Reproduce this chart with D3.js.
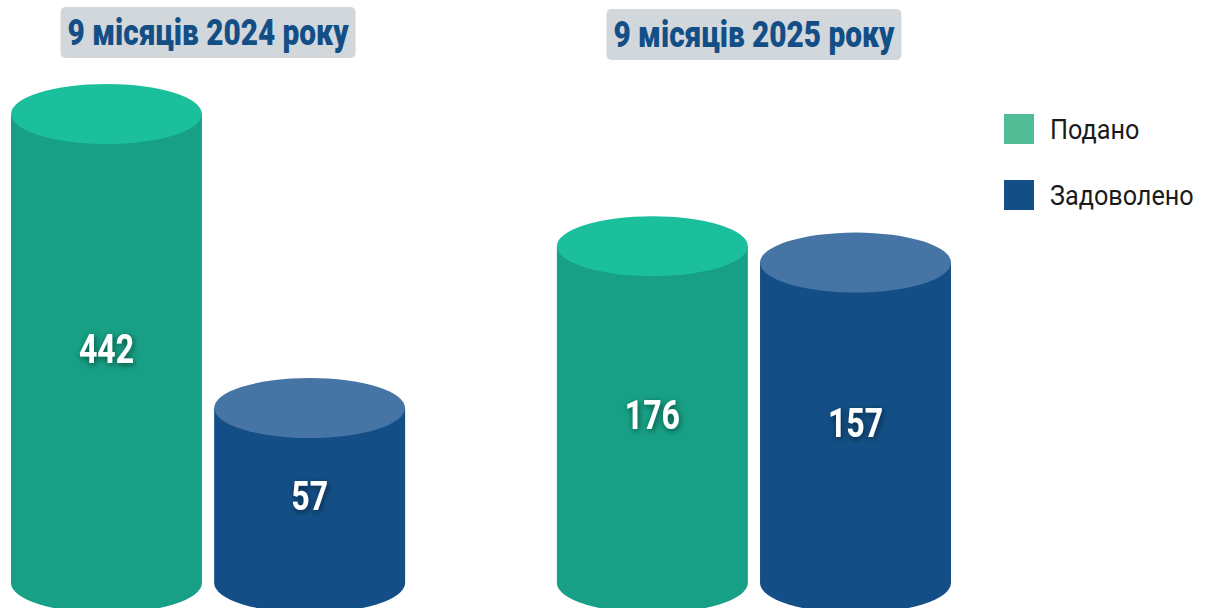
<!DOCTYPE html>
<html><head><meta charset="utf-8">
<script src="https://cdn.jsdelivr.net/npm/d3@7"></script>
<style>html,body{margin:0;padding:0;background:#fff;overflow:hidden}</style>
</head><body>
<svg id="chart" width="1209" height="608"></svg>
<script>
// ---- data ----
const groups = ["9 місяців 2024 року", "9 місяців 2025 року"];
const seriesNames = ["Подано", "Задоволено"];
const podano = [442, 176];
const zadovoleno = [57, 157];

// ---- styles ----
const sideColor = {"Подано": "#17a085", "Задоволено": "#134f86"};
const topColor  = {"Подано": "#1bbf9c", "Задоволено": "#4574a5"};
const legendColor = {"Подано": "#52bc97", "Задоволено": "#134f86"};

const W = 1209, H = 608;
const baseY = 583, ry = 30;
const svg = d3.select("#chart");

const defs = svg.append("defs");
const f = defs.append("filter").attr("id","shadow").attr("x","-50%").attr("y","-50%").attr("width","200%").attr("height","200%");
f.append("feDropShadow").attr("dx",1).attr("dy",2).attr("stdDeviation",3).attr("flood-color","#000").attr("flood-opacity",0.55);

const x0 = d3.scaleBand().domain(groups).range([11, 951]).paddingInner(0.278).paddingOuter(0);
const x1 = d3.scaleBand().domain(seriesNames).range([0, x0.bandwidth()]).paddingInner(0.06).paddingOuter(0);
// log-like height scale
const y = d3.scaleLog().domain([57, 442]).range([baseY - 175, baseY - 469]);

const data = groups.map((g, i) => ({group: g, values: [
  {name: "Подано", value: podano[i]},
  {name: "Задоволено", value: zadovoleno[i]}
]}));

const gG = svg.selectAll("g.grp").data(data).join("g").attr("class","grp")
  .attr("transform", d => `translate(${x0(d.group)},0)`);

const bars = gG.selectAll("g.bar").data(d => d.values).join("g").attr("class","bar");
bars.each(function(d){
  const g = d3.select(this);
  const left = x1(d.name), w = x1.bandwidth(), rx = w/2, cx = left + rx;
  const ty = y(d.value);
  const path = `M${left},${ty} L${left},${baseY} A${rx},${ry} 0 0 0 ${left+w},${baseY} L${left+w},${ty} Z`;
  g.append("path").attr("d", path).attr("fill", sideColor[d.name]);
  g.append("ellipse").attr("cx", cx).attr("cy", ty).attr("rx", rx).attr("ry", ry).attr("fill", topColor[d.name]);
  const t = g.append("text").attr("x", cx).attr("y", (ty + baseY)/2 + 14)
    .attr("text-anchor","middle").attr("fill","#fff")
    .attr("font-family","Roboto, sans-serif").attr("font-weight",700).attr("font-size",40)
    .attr("filter","url(#shadow)").text(d.value);
  const L = t.node().getComputedTextLength();
  t.attr("textLength", L*0.8).attr("lengthAdjust","spacingAndGlyphs");
});

// titles
const titleW = 295, titleH = 51;
const tG = svg.selectAll("g.title").data(groups).join("g").attr("class","title")
  .attr("transform", (d,i) => `translate(${x0(d) + x0.bandwidth()/2},${i===0?7:9})`);
tG.append("rect").attr("x", -titleW/2).attr("y", 0).attr("width", titleW).attr("height", titleH)
  .attr("rx", 5).attr("fill", "#d2d7dc");
tG.append("text").attr("x", 0).attr("y", 38).attr("text-anchor","middle")
  .attr("fill","#134f86").attr("font-family","Roboto, sans-serif").attr("font-weight",900).attr("font-size",37)
  .attr("textLength", 281).attr("lengthAdjust","spacingAndGlyphs").text(d => d);

// legend
const leg = svg.append("g").attr("transform","translate(1004,114)");
const li = leg.selectAll("g").data(seriesNames).join("g").attr("transform",(d,i)=>`translate(0,${i*66})`);
li.append("rect").attr("width",30).attr("height",30).attr("fill", d => legendColor[d]);
li.append("text").attr("x",46).attr("y",25).attr("fill","#1a1a1a")
  .attr("font-family","Roboto, sans-serif").attr("font-weight",400).attr("font-size",28)
  .text(d => d)
  .each(function(){ const L = this.getComputedTextLength(); d3.select(this).attr("textLength", L*0.9).attr("lengthAdjust","spacingAndGlyphs"); });
</script>
</body></html>
